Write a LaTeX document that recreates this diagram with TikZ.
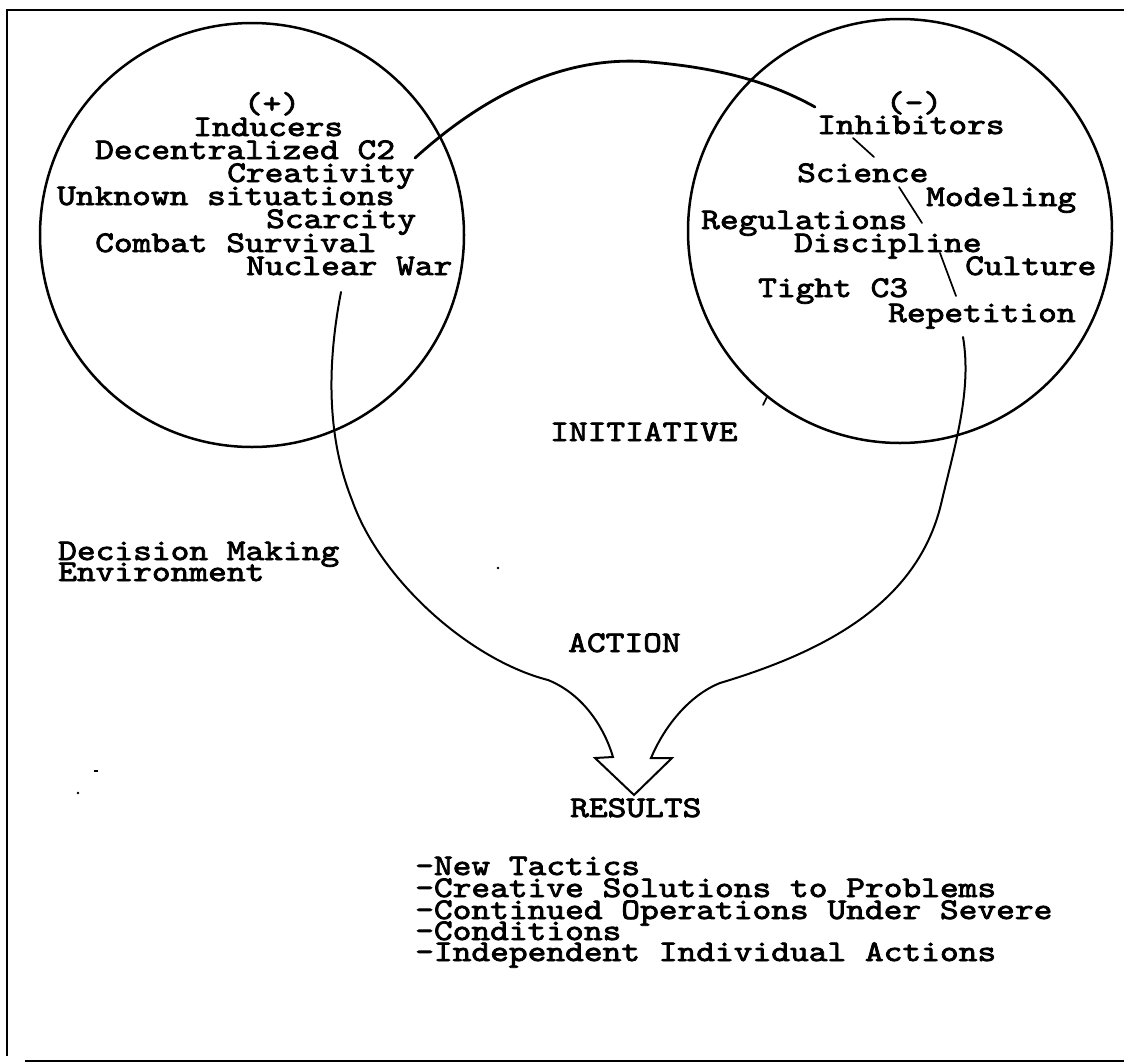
\documentclass[tikz,border=0pt]{standalone}
\usepackage{fontspec}
\newfontfamily\monofnt{lmmono10-regular.otf}[FakeStretch=1.19, FakeBold=2.6]
\tikzset{
  lbl/.style={anchor=base west, inner sep=0pt, font=\monofnt\fontsize{30}{30}\selectfont},
  clbl/.style={anchor=base, inner sep=0pt, font=\monofnt\fontsize{30}{30}\selectfont},
  ring/.style={line width=2.5pt},
  bigarc/.style={line width=2.8pt, line cap=round},
  branch/.style={line width=2pt, line join=miter, line cap=round},
  tickln/.style={line width=1.7pt, line cap=round},
  framel/.style={line width=2.8pt},
}
\begin{document}
\begin{tikzpicture}[x=1pt,y=-1pt]
\useasboundingbox (0,0) rectangle (1124,1063);
% frame
\draw[framel] (1124,10) -- (7,10) -- (7,1056);
\draw[framel] (25,1061) -- (1124,1061);

% circles
\node[draw, ring, circle, minimum size=424pt, inner sep=0pt] (lc) at (252,235) {};
\node[draw, ring, circle, minimum size=424pt, inner sep=0pt] (rc) at (900,231) {};

% left circle texts
\node[clbl] (plus) at (272,113) {(+)};
\node[lbl] (ind) at (193,136) {Inducers};
\node[lbl] (dec) at (95,159) {Decentralized C2};
\node[lbl] (cre) at (227,182) {Creativity};
\node[lbl] (unk) at (57,205) {Unknown situations};
\node[lbl] (sca) at (266,228) {Scarcity};
\node[lbl] (com) at (95,252) {Combat Survival};
\node[lbl] (nuc) at (246,275) {Nuclear War};

% right circle texts
\node[clbl] (minus) at (914,112) {(-)};
\node[lbl] (inh) at (817,134) {Inhibitors};
\node[lbl] (sci) at (797,182) {Science};
\node[lbl] (mod) at (926,206) {Modeling};
\node[lbl] (reg) at (701,229) {Regulations};
\node[lbl] (dis) at (794,252) {Discipline};
\node[lbl] (cul) at (965,275) {Culture};
\node[lbl] (tig) at (758,297) {Tight C3};
\node[lbl] (rep) at (888,322) {Repetition};

% middle texts
\node[lbl] (ini) at (550,441) {INITIATIVE};
\node[lbl] (dm1) at (58,560) {Decision Making};
\node[lbl] (dm2) at (58,581) {Environment};
\node[lbl] (act) at (568,652) {ACTION};
\node[lbl] (res) at (570,817) {RESULTS};
\node[lbl] (r1) at (415,875) {-New Tactics};
\node[lbl] (r2) at (415,897) {-Creative Solutions to Problems};
\node[lbl] (r3) at (415,919) {-Continued Operations Under Severe};
\node[lbl] (r4) at (415,940) {-Conditions};
\node[lbl] (r5) at (415,961) {-Independent Individual Actions};

% coordinates for connector ends
\coordinate (arcA) at (415,158);
\coordinate (arcB) at (815,107);
\coordinate (brL) at (341,292);
\coordinate (brR) at (963,337);
\coordinate (tip) at (634,795);

% big arc from inducers to inhibitors
\draw[bigarc] (arcA) .. controls (490,90) and (570,55) .. (650,62)
  .. controls (720,68) and (770,82) .. (arcB);

% action balloon with arrow
\draw[branch] (brL) .. controls (326,370) and (328,440) .. (352,500)
  .. controls (380,580) and (470,660) .. (548,680)
  .. controls (585,695) and (605,730) .. (613,757)
  -- (595,758) -- (tip) -- (672,758) -- (651,758)
  .. controls (665,725) and (690,695) .. (720,683)
  .. controls (830,650) and (920,600) .. (942,500)
  .. controls (955,445) and (972,390) .. (brR);

% inhibitor links
\coordinate (l1a) at (853,138); \coordinate (l1b) at (874,157);
\coordinate (l2a) at (899,187); \coordinate (l2b) at (922,223);
\coordinate (l3a) at (940,253); \coordinate (l3b) at (956,296);
\draw[tickln] (l1a) -- (l1b);
\draw[tickln] (l2a) -- (l2b);
\draw[tickln] (l3a) -- (l3b);

% small tick on right circle
\coordinate (tk1) at (763,405); \coordinate (tk2) at (767,397);
\draw[tickln] (tk1) -- (tk2);

% specks
\fill (498,568) circle (1.4pt);
\fill (78,793) circle (1.4pt);
\draw[line width=1.4pt] (94,771) -- (98,771);
\end{tikzpicture}
\end{document}
